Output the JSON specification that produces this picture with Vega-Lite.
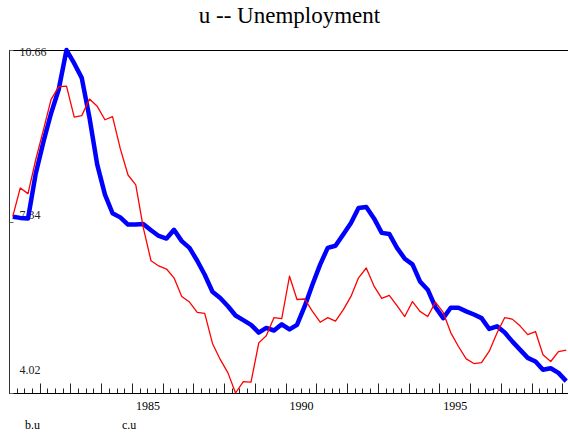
{
  "$schema": "https://vega.github.io/schema/vega-lite/v6.json",
  "autosize": {"type": "none"},
  "padding": {"left": 9, "top": 50, "right": 0, "bottom": 41},
  "width": 561,
  "height": 343,
  "background": "white",
  "view": {"stroke": "black", "strokeWidth": 1},
  "title": {
    "text": "u -- Unemployment",
    "font": "'Liberation Serif', 'Times New Roman', serif",
    "fontSize": 23,
    "fontWeight": "normal",
    "color": "black",
    "anchor": "middle",
    "frame": "group",
    "baseline": "alphabetic",
    "offset": -0.5
  },
  "data": {
    "values": [
      {"d": "1981-02-15", "b": 7.43, "c": 7.44},
      {"d": "1981-05-15", "b": 7.41, "c": 7.99},
      {"d": "1981-08-15", "b": 7.40, "c": 7.88},
      {"d": "1981-11-15", "b": 8.27, "c": 8.54},
      {"d": "1982-02-15", "b": 8.89, "c": 9.12},
      {"d": "1982-05-15", "b": 9.43, "c": 9.70},
      {"d": "1982-08-15", "b": 9.90, "c": 9.95},
      {"d": "1982-11-15", "b": 10.66, "c": 9.96},
      {"d": "1983-02-15", "b": 10.40, "c": 9.36},
      {"d": "1983-05-15", "b": 10.12, "c": 9.39},
      {"d": "1983-08-15", "b": 9.35, "c": 9.71},
      {"d": "1983-11-15", "b": 8.44, "c": 9.57},
      {"d": "1984-02-15", "b": 7.86, "c": 9.31},
      {"d": "1984-05-15", "b": 7.50, "c": 9.37},
      {"d": "1984-08-15", "b": 7.42, "c": 8.75},
      {"d": "1984-11-15", "b": 7.28, "c": 8.24},
      {"d": "1985-02-15", "b": 7.28, "c": 8.05},
      {"d": "1985-05-15", "b": 7.29, "c": 7.22},
      {"d": "1985-08-15", "b": 7.17, "c": 6.58},
      {"d": "1985-11-15", "b": 7.06, "c": 6.48},
      {"d": "1986-02-15", "b": 7.01, "c": 6.42},
      {"d": "1986-05-15", "b": 7.18, "c": 6.25},
      {"d": "1986-08-15", "b": 6.96, "c": 5.89},
      {"d": "1986-11-15", "b": 6.83, "c": 5.78},
      {"d": "1987-02-15", "b": 6.58, "c": 5.58},
      {"d": "1987-05-15", "b": 6.31, "c": 5.56},
      {"d": "1987-08-15", "b": 5.98, "c": 4.98},
      {"d": "1987-11-15", "b": 5.86, "c": 4.67},
      {"d": "1988-02-15", "b": 5.70, "c": 4.41},
      {"d": "1988-05-15", "b": 5.52, "c": 4.02},
      {"d": "1988-08-15", "b": 5.43, "c": 4.24},
      {"d": "1988-11-15", "b": 5.34, "c": 4.23},
      {"d": "1989-02-15", "b": 5.19, "c": 4.99},
      {"d": "1989-05-15", "b": 5.28, "c": 5.13},
      {"d": "1989-08-15", "b": 5.23, "c": 5.48},
      {"d": "1989-11-15", "b": 5.35, "c": 5.46},
      {"d": "1990-02-15", "b": 5.25, "c": 6.28},
      {"d": "1990-05-15", "b": 5.34, "c": 5.83},
      {"d": "1990-08-15", "b": 5.70, "c": 5.84},
      {"d": "1990-11-15", "b": 6.12, "c": 5.60},
      {"d": "1991-02-15", "b": 6.51, "c": 5.39},
      {"d": "1991-05-15", "b": 6.83, "c": 5.48},
      {"d": "1991-08-15", "b": 6.87, "c": 5.41},
      {"d": "1991-11-15", "b": 7.09, "c": 5.63},
      {"d": "1992-02-15", "b": 7.31, "c": 5.89},
      {"d": "1992-05-15", "b": 7.60, "c": 6.25},
      {"d": "1992-08-15", "b": 7.62, "c": 6.44},
      {"d": "1992-11-15", "b": 7.40, "c": 6.09},
      {"d": "1993-02-15", "b": 7.12, "c": 5.85},
      {"d": "1993-05-15", "b": 7.10, "c": 5.91},
      {"d": "1993-08-15", "b": 6.83, "c": 5.71},
      {"d": "1993-11-15", "b": 6.62, "c": 5.50},
      {"d": "1994-02-15", "b": 6.51, "c": 5.79},
      {"d": "1994-05-15", "b": 6.18, "c": 5.60},
      {"d": "1994-08-15", "b": 6.02, "c": 5.50},
      {"d": "1994-11-15", "b": 5.68, "c": 5.78},
      {"d": "1995-02-15", "b": 5.47, "c": 5.58},
      {"d": "1995-05-15", "b": 5.67, "c": 5.19},
      {"d": "1995-08-15", "b": 5.67, "c": 4.92},
      {"d": "1995-11-15", "b": 5.60, "c": 4.68},
      {"d": "1996-02-15", "b": 5.54, "c": 4.59},
      {"d": "1996-05-15", "b": 5.47, "c": 4.61},
      {"d": "1996-08-15", "b": 5.26, "c": 4.83},
      {"d": "1996-11-15", "b": 5.31, "c": 5.18},
      {"d": "1997-02-15", "b": 5.19, "c": 5.48},
      {"d": "1997-05-15", "b": 5.02, "c": 5.45},
      {"d": "1997-08-15", "b": 4.86, "c": 5.32},
      {"d": "1997-11-15", "b": 4.70, "c": 5.15},
      {"d": "1998-02-15", "b": 4.63, "c": 5.21},
      {"d": "1998-05-15", "b": 4.47, "c": 4.76},
      {"d": "1998-08-15", "b": 4.50, "c": 4.63},
      {"d": "1998-11-15", "b": 4.41, "c": 4.82},
      {"d": "1999-02-15", "b": 4.25, "c": 4.85}
    ]
  },
  "transform": [{"fold": ["b", "c"], "as": ["series", "value"]}],
  "mark": {"type": "line", "clip": false, "strokeJoin": "round"},
  "encoding": {
    "x": {
      "field": "d",
      "type": "temporal",
      "scale": {
        "type": "utc",
        "domain": [
          {"year": 1981, "month": 1, "date": 1, "utc": true},
          {"year": 1999, "month": 4, "date": 1, "utc": true}
        ],
        "nice": false
      },
      "axis": {
        "title": null,
        "grid": false,
        "domainColor": "black",
        "tickColor": "#222",
        "tickCount": {"interval": "month", "step": 3},
        "tickSize": {"condition": {"test": "utcmonth(datum.value) === 0", "value": -10}, "value": -5},
        "labelExpr": "utcmonth(datum.value) === 0 && utcyear(datum.value) % 5 === 0 ? utcFormat(datum.value, '%Y') : ''",
        "labelOffset": 15.4,
        "labelPadding": 26,
        "labelAlign": "center",
        "labelBaseline": "alphabetic",
        "labelFont": "'Liberation Serif', 'Times New Roman', serif",
        "labelFontSize": 12,
        "labelColor": "black",
        "labelFlush": false,
        "labelOverlap": false,
        "labelBound": false
      }
    },
    "y": {
      "field": "value",
      "type": "quantitative",
      "scale": {"domain": [4.02, 10.66], "nice": false, "zero": false},
      "axis": {
        "title": null,
        "grid": false,
        "values": [4.02, 7.34, 10.66],
        "format": ".2f",
        "domainColor": "#333",
        "tickColor": "#666",
        "tickSize": -4,
        "labelAlign": "left",
        "labelPadding": -6,
        "labelBaseline": "alphabetic",
        "labelOffset": {
          "condition": [
            {"test": "datum.value > 10", "value": 5.5},
            {"test": "datum.value < 5", "value": -19.3}
          ],
          "value": -2.7
        },
        "labelFont": "'Liberation Serif', 'Times New Roman', serif",
        "labelFontSize": 12,
        "labelColor": "#222",
        "labelFlush": false,
        "labelOverlap": false,
        "labelBound": false
      }
    },
    "color": {
      "field": "series",
      "type": "nominal",
      "scale": {"domain": ["b", "c"], "range": ["#0000ff", "#ff0000"]},
      "legend": {
        "orient": "none",
        "legendX": 4,
        "legendY": 369,
        "direction": "horizontal",
        "title": null,
        "symbolOpacity": 0,
        "symbolSize": 0,
        "symbolStrokeWidth": 0,
        "labelOffset": 0,
        "columnPadding": 70,
        "labelExpr": "datum.label + '.u'",
        "labelFont": "'Liberation Serif', 'Times New Roman', serif",
        "labelFontSize": 12,
        "labelColor": "black"
      }
    },
    "strokeWidth": {
      "field": "series",
      "type": "nominal",
      "scale": {"domain": ["b", "c"], "range": [4.5, 1.3]},
      "legend": null
    }
  }
}
